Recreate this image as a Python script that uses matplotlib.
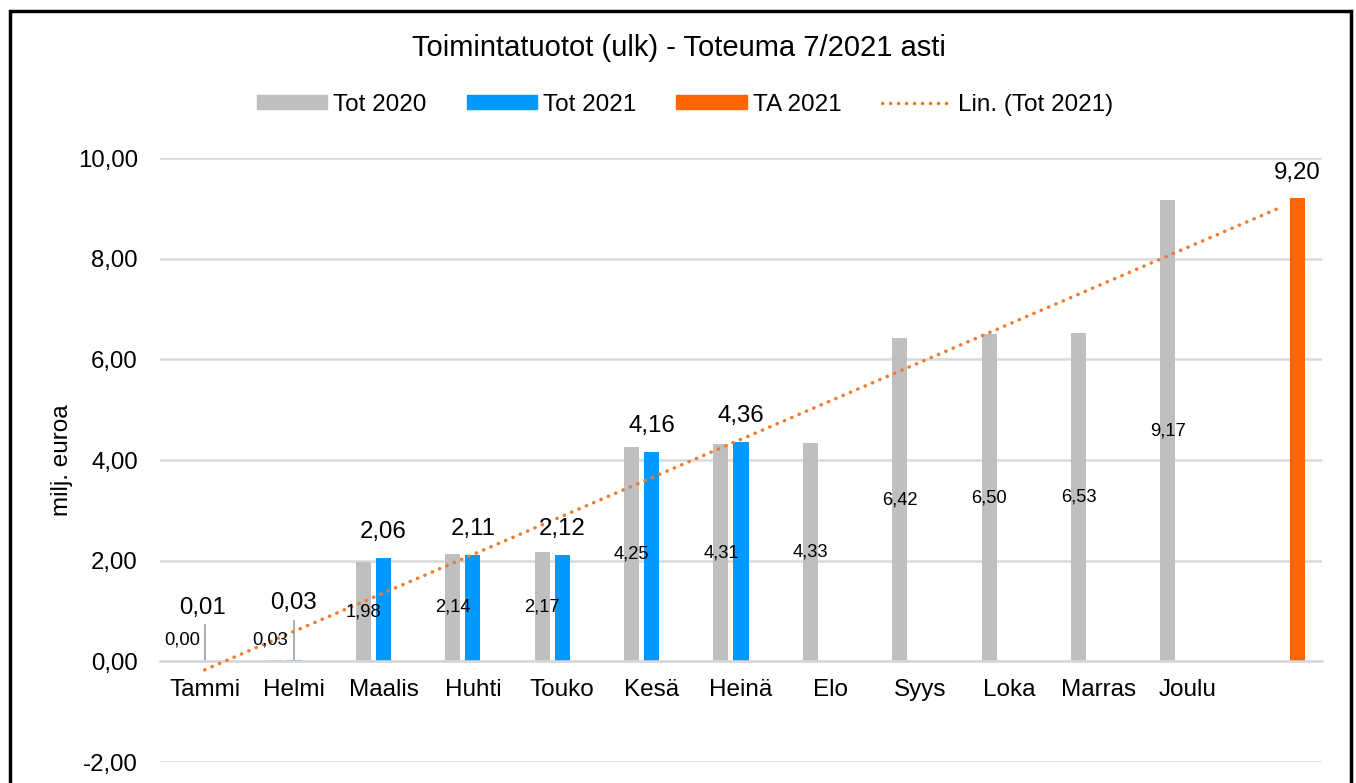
import numpy as np
import matplotlib.pyplot as plt
from matplotlib.patches import Patch, Rectangle
from matplotlib.lines import Line2D

plt.rcParams['font.family'] = ['Liberation Sans', 'DejaVu Sans']

# data
months = ["Tammi", "Helmi", "Maalis", "Huhti", "Touko", "Kesä", "Heinä",
          "Elo", "Syys", "Loka", "Marras", "Joulu", ""]
tot_2020 = [0.00, 0.03, 1.98, 2.14, 2.17, 4.25, 4.31, 4.33, 6.42, 6.50, 6.53, 9.17]
tot_2021 = [0.01, 0.03, 2.06, 2.11, 2.12, 4.16, 4.36]
ta_2021 = 9.20
ta_index = 12
yticks = [-2, 0, 2, 4, 6, 8, 10]

c_2020 = "#BFBFBF"
c_2021 = "#0099FF"
c_ta = "#FF6600"
c_trend = "#ED7D31"
c_grid = "#D9D9D9"


def fi(v):
    return f"{v:.2f}".replace(".", ",")


fig = plt.figure(figsize=(13.56, 7.83), dpi=100)
ax = fig.add_axes([160 / 1356, 21 / 783, 1162 / 1356, 604 / 783])

# axis line at zero first, it resets the ticks
for s in ["top", "right", "left"]:
    ax.spines[s].set_visible(False)
ax.spines["bottom"].set_position(("data", 0))
ax.spines["bottom"].set_color(c_grid)
ax.spines["bottom"].set_linewidth(1.8)

n = len(months)
x = np.arange(n)
w = 0.168
off = 0.224

x20 = np.arange(len(tot_2020))
x21 = np.arange(len(tot_2021))
ax.bar(x20 - off, tot_2020, width=w, color=c_2020, zorder=2)
ax.bar(x21, tot_2021, width=w, color=c_2021, zorder=2)
ax.bar([ta_index + off], [ta_2021], width=w, color=c_ta, zorder=2)

# linear trend of Tot 2021, forecast to the end
k, b = np.polyfit(x21, tot_2021, 1)
xt = np.arange(n)
ax.plot(xt, k * xt + b, color=c_trend, lw=2.5, linestyle=(0, (0.1, 2.2)),
        dash_capstyle="round", zorder=3)

# labels for Tot 2020 (inside, centered)
for i, v in enumerate(tot_2020):
    if i < 2:
        continue
    ax.text(i - off, v / 2, fi(v), ha="center", va="center", fontsize=13.2, zorder=4)
# first two months: labels lifted with leader lines
ax.text(0 - 0.25, 0.42, fi(tot_2020[0]), ha="center", va="center", fontsize=13.2)
ax.text(1 - 0.27, 0.42, fi(tot_2020[1]), ha="center", va="center", fontsize=13.2)

# labels for Tot 2021 (above)
for i, v in enumerate(tot_2021):
    if i < 2:
        continue
    ax.annotate(fi(v), (i, v), xytext=(0, 18.5), textcoords="offset points",
                ha="center", va="center", fontsize=17.3, zorder=4)
ax.plot([0, 0], [0, 0.72], color="#A6A6A6", lw=1.3, zorder=1)
ax.plot([1, 1], [0, 0.80], color="#A6A6A6", lw=1.3, zorder=1)
ax.text(0 - 0.02, 1.05, fi(tot_2021[0]), ha="center", va="center", fontsize=17.3)
ax.text(1 - 0.01, 1.15, fi(tot_2021[1]), ha="center", va="center", fontsize=17.3)

ax.annotate(fi(ta_2021), (ta_index + off, ta_2021), xytext=(0, 18.5),
            textcoords="offset points", ha="center", va="center", fontsize=17.3)

ax.set_xlim(-0.5, n - 0.5)
ax.set_ylim(-2, 10)
ax.set_yticks(yticks)
ax.set_yticklabels([fi(t) for t in yticks])
ax.set_xticks(x)
ax.set_xticklabels(months)
ax.tick_params(axis="both", length=0)
ax.tick_params(axis="y", pad=16, labelsize=17.3)
ax.tick_params(axis="x", pad=13, labelsize=17.5)
ax.grid(axis="y", color=c_grid, lw=1.8, zorder=0)
ax.set_ylabel("milj. euroa", fontsize=17.5, labelpad=3)

fig.text(679 / 1356, 1 - 48 / 783, "Toimintatuotot (ulk) - Toteuma 7/2021 asti",
         ha="center", va="center", fontsize=21)

handles = [
    Patch(color=c_2020, label="Tot 2020"),
    Patch(color=c_2021, label="Tot 2021"),
    Patch(color=c_ta, label="TA 2021"),
    Line2D([], [], color=c_trend, lw=2.5, linestyle=(0, (0.1, 2.2)),
           dash_capstyle="round", label="Lin. (Tot 2021)"),
]
fig.legend(handles=handles, loc="center", bbox_to_anchor=(685 / 1356, 1 - 105 / 783),
           ncol=4, frameon=False, fontsize=17.5, handlelength=2.9, handleheight=0.5,
           handletextpad=0.25, columnspacing=1.65)

# outer chart border (bottom is cut off)
fig.patches.append(Rectangle((10 / 1356, -0.05), 1341 / 1356, 1.05 - 11 / 783,
                             transform=fig.transFigure, fill=False,
                             edgecolor="#000000", lw=2.5))

fig.savefig("out.png", dpi=100)
